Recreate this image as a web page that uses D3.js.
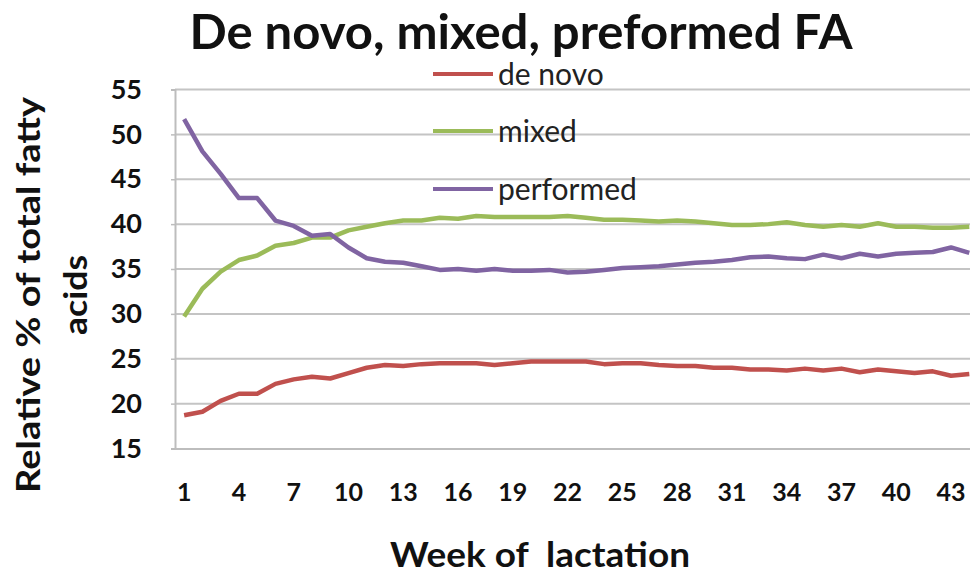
<!DOCTYPE html>
<html>
<head>
<meta charset="utf-8">
<script src="https://cdn.jsdelivr.net/npm/d3@7"></script>
<style>
  html, body { margin: 0; padding: 0; background: #fff; overflow: hidden; }
  svg { display: block; font-family: Lato, "Open Sans", sans-serif; }
</style>
</head>
<body>
<svg id="chart" width="970" height="577"></svg>
<script>
// Week of lactation, 1..44
const weeks = d3.range(1, 45);
const xTickWeeks = [1, 4, 7, 10, 13, 16, 19, 22, 25, 28, 31, 34, 37, 40, 43];
const yTicks = [15, 20, 25, 30, 35, 40, 45, 50, 55];

// Relative % of total fatty acids per week
const deNovo = [18.7, 19.1, 20.3, 21.1, 21.1, 22.2, 22.7, 23.0, 22.8, 23.4,
                24.0, 24.3, 24.2, 24.4, 24.5, 24.5, 24.5, 24.3, 24.5, 24.7,
                24.7, 24.7, 24.7, 24.4, 24.5, 24.5, 24.3, 24.2, 24.2, 24.0,
                24.0, 23.8, 23.8, 23.7, 23.9, 23.7, 23.9, 23.5, 23.8, 23.6,
                23.4, 23.6, 23.1, 23.3];
const mixed = [29.7, 32.8, 34.7, 36.0, 36.5, 37.6, 37.9, 38.5, 38.5, 39.3,
               39.7, 40.1, 40.4, 40.4, 40.7, 40.6, 40.9, 40.8, 40.8, 40.8,
               40.8, 40.9, 40.7, 40.5, 40.5, 40.4, 40.3, 40.4, 40.3, 40.1,
               39.9, 39.9, 40.0, 40.2, 39.9, 39.7, 39.9, 39.7, 40.1, 39.7,
               39.7, 39.6, 39.6, 39.7];
const performed = [51.7, 48.1, 45.6, 42.9, 42.9, 40.4, 39.8, 38.7, 38.9, 37.4,
                   36.2, 35.8, 35.7, 35.3, 34.9, 35.0, 34.8, 35.0, 34.8, 34.8,
                   34.9, 34.6, 34.7, 34.9, 35.1, 35.2, 35.3, 35.5, 35.7, 35.8,
                   36.0, 36.3, 36.4, 36.2, 36.1, 36.6, 36.2, 36.7, 36.4, 36.7,
                   36.8, 36.9, 37.4, 36.8];

const seriesNames = ["de novo", "mixed", "performed"];
const seriesColors = ["#c0504d", "#9bbb59", "#8064a2"];
const seriesValues = [deNovo, mixed, performed];

const svg = d3.select("#chart");

// Plot area (the right edge runs past the visible frame)
const plotLeft = 175, plotTop = 89.5, plotBottom = 448.5, bandW = 18.26;
const plotRight = plotLeft + bandW * weeks.length;

const x = d3.scaleBand().domain(weeks).range([plotLeft, plotRight]);
const y = d3.scaleLinear().domain([15, 55]).range([plotBottom, plotTop]);
const cx = w => x(w) + x.bandwidth() / 2;

// Horizontal gridlines
svg.append("g")
  .selectAll("line")
  .data(yTicks.slice(1))
  .join("line")
  .attr("x1", plotLeft).attr("x2", plotRight)
  .attr("y1", d => y(d)).attr("y2", d => y(d))
  .attr("stroke", "#c4c4c4").attr("stroke-width", 2);

// Y axis
const yAxis = svg.append("g")
  .attr("transform", `translate(${plotLeft},0)`)
  .call(d3.axisLeft(y).tickValues(yTicks).tickSize(4).tickPadding(29));
yAxis.select(".domain").attr("stroke", "#bdbdbd").attr("stroke-width", 2);
yAxis.selectAll(".tick line").attr("stroke", "#bdbdbd").attr("stroke-width", 1.5);
yAxis.selectAll(".tick text")
  .attr("fill", "#111").attr("font-size", 27).attr("font-weight", 700)
  .attr("font-family", "Lato, sans-serif");

// X axis
const xAxis = svg.append("g")
  .attr("transform", `translate(0,${plotBottom})`)
  .call(d3.axisBottom(x).tickValues(xTickWeeks).tickSize(0).tickPadding(35));
xAxis.select(".domain").attr("stroke", "#bdbdbd").attr("stroke-width", 2);
xAxis.selectAll(".tick text")
  .attr("fill", "#111").attr("font-size", 25).attr("font-weight", 700)
  .attr("font-family", "Lato, sans-serif");

// Series lines
const line = d3.line()
  .x((d, i) => cx(weeks[i]))
  .y(d => y(d));

svg.append("g")
  .selectAll("path")
  .data(seriesValues)
  .join("path")
  .attr("d", d => line(d))
  .attr("fill", "none")
  .attr("stroke", (d, i) => seriesColors[i])
  .attr("stroke-width", 4.5)
  .attr("stroke-linejoin", "round");

// Legend
const legendY = [74, 131, 189];
const legend = svg.append("g")
  .selectAll("g")
  .data(seriesNames)
  .join("g")
  .attr("transform", (d, i) => `translate(433,${legendY[i]})`);
legend.append("line")
  .attr("x1", 0).attr("x2", 60)
  .attr("stroke", (d, i) => seriesColors[i])
  .attr("stroke-width", 4);
legend.append("text")
  .attr("x", 65).attr("dy", "0.35em")
  .attr("font-size", 30).attr("fill", "#222")
  .text(d => d);

// Title
svg.append("text")
  .attr("x", 521).attr("y", 49)
  .attr("text-anchor", "middle")
  .attr("font-size", 47).attr("font-weight", 700).attr("fill", "#111")
  .attr("textLength", 663).attr("lengthAdjust", "spacingAndGlyphs")
  .text("De novo, mixed, preformed FA");

// Axis titles
svg.append("text")
  .attr("x", 540).attr("y", 567)
  .attr("text-anchor", "middle")
  .attr("font-size", 34).attr("font-weight", 700).attr("fill", "#111")
  .attr("textLength", 300).attr("lengthAdjust", "spacingAndGlyphs")
  .style("white-space", "pre")
  .text("Week of  lactation");

const yTitle = svg.append("text")
  .attr("transform", "translate(0,295) rotate(-90)")
  .attr("text-anchor", "middle")
  .attr("font-size", 33).attr("font-weight", 700).attr("fill", "#111");
yTitle.append("tspan").attr("x", 0).attr("y", 40)
  .attr("textLength", 396).attr("lengthAdjust", "spacingAndGlyphs")
  .text("Relative % of total fatty");
yTitle.append("tspan").attr("x", 0).attr("y", 87)
  .attr("textLength", 80).attr("lengthAdjust", "spacingAndGlyphs")
  .text("acids");
</script>
</body>
</html>
